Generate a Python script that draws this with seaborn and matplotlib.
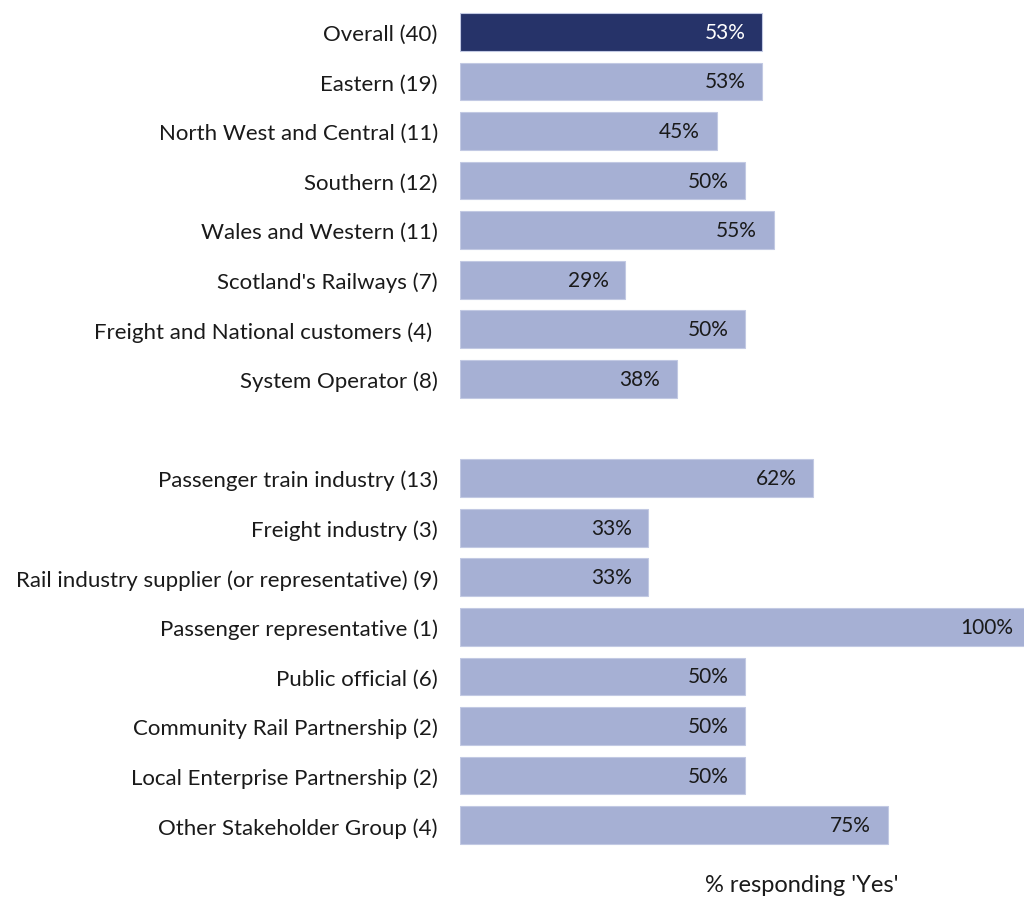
import matplotlib
matplotlib.use("Agg")
import matplotlib.pyplot as plt
import seaborn as sns
import pandas as pd

categories = [
    "Overall (40)", "Eastern (19)", "North West and Central (11)", "Southern (12)",
    "Wales and Western (11)", "Scotland's Railways (7)", "Freight and National customers (4) ",
    "System Operator (8)",
    "Passenger train industry (13)", "Freight industry (3)",
    "Rail industry supplier (or representative) (9)", "Passenger representative (1)",
    "Public official (6)", "Community Rail Partnership (2)",
    "Local Enterprise Partnership (2)", "Other Stakeholder Group (4)",
]
values = [53, 53, 45, 50, 55, 29, 50, 38, 62, 33, 33, 100, 50, 50, 50, 75]
group = ["overall"] + ["sub"] * 15
spacer = " "
order = categories[:8] + [spacer] + categories[8:]

df = pd.DataFrame({"cat": categories, "val": values, "grp": group})

sns.set_theme(style="white")
plt.rcParams["font.family"] = ["Lato", "DejaVu Sans"]

fig = plt.figure(figsize=(10.24, 9.04), dpi=100)
W, H = 1024, 904
left, right, top, bottom = 460, 1024, 8, 851
ax = fig.add_axes([left / W, 1 - bottom / H, (right - left) / W, (bottom - top) / H])

palette = {"overall": "#263369", "sub": "#a6b0d4"}
sns.barplot(data=df, y="cat", x="val", hue="grp", order=order, palette=palette,
            dodge=False, width=0.76, ax=ax, legend=False, orient="h", saturation=1,
            edgecolor="#c2c9e3", linewidth=0.8)

xmax = 100 * (right - left) / (1030 - left)
ax.set_xlim(0, xmax)
ax.set_ylim(len(order) - 0.5, -0.5)

pos = {c: i for i, c in enumerate(order)}
for c, v, g in zip(categories, values, group):
    ax.text(v - 2.9, pos[c], f"{v}%", ha="right", va="center", fontsize=15,
            color="white" if g == "overall" else "#1a1a1a")

for s in ax.spines.values():
    s.set_visible(False)
ax.set_xticks([])
ax.set_ylabel("")
ax.tick_params(axis="y", length=0, pad=16, labelsize=16, labelcolor="#1a1a1a")
ax.set_xlabel("% responding 'Yes'", fontsize=17, color="#1a1a1a")
ax.xaxis.set_label_coords((802 - left) / (right - left), -(875 - bottom) / (bottom - top))

fig.savefig("out.png", dpi=100)
